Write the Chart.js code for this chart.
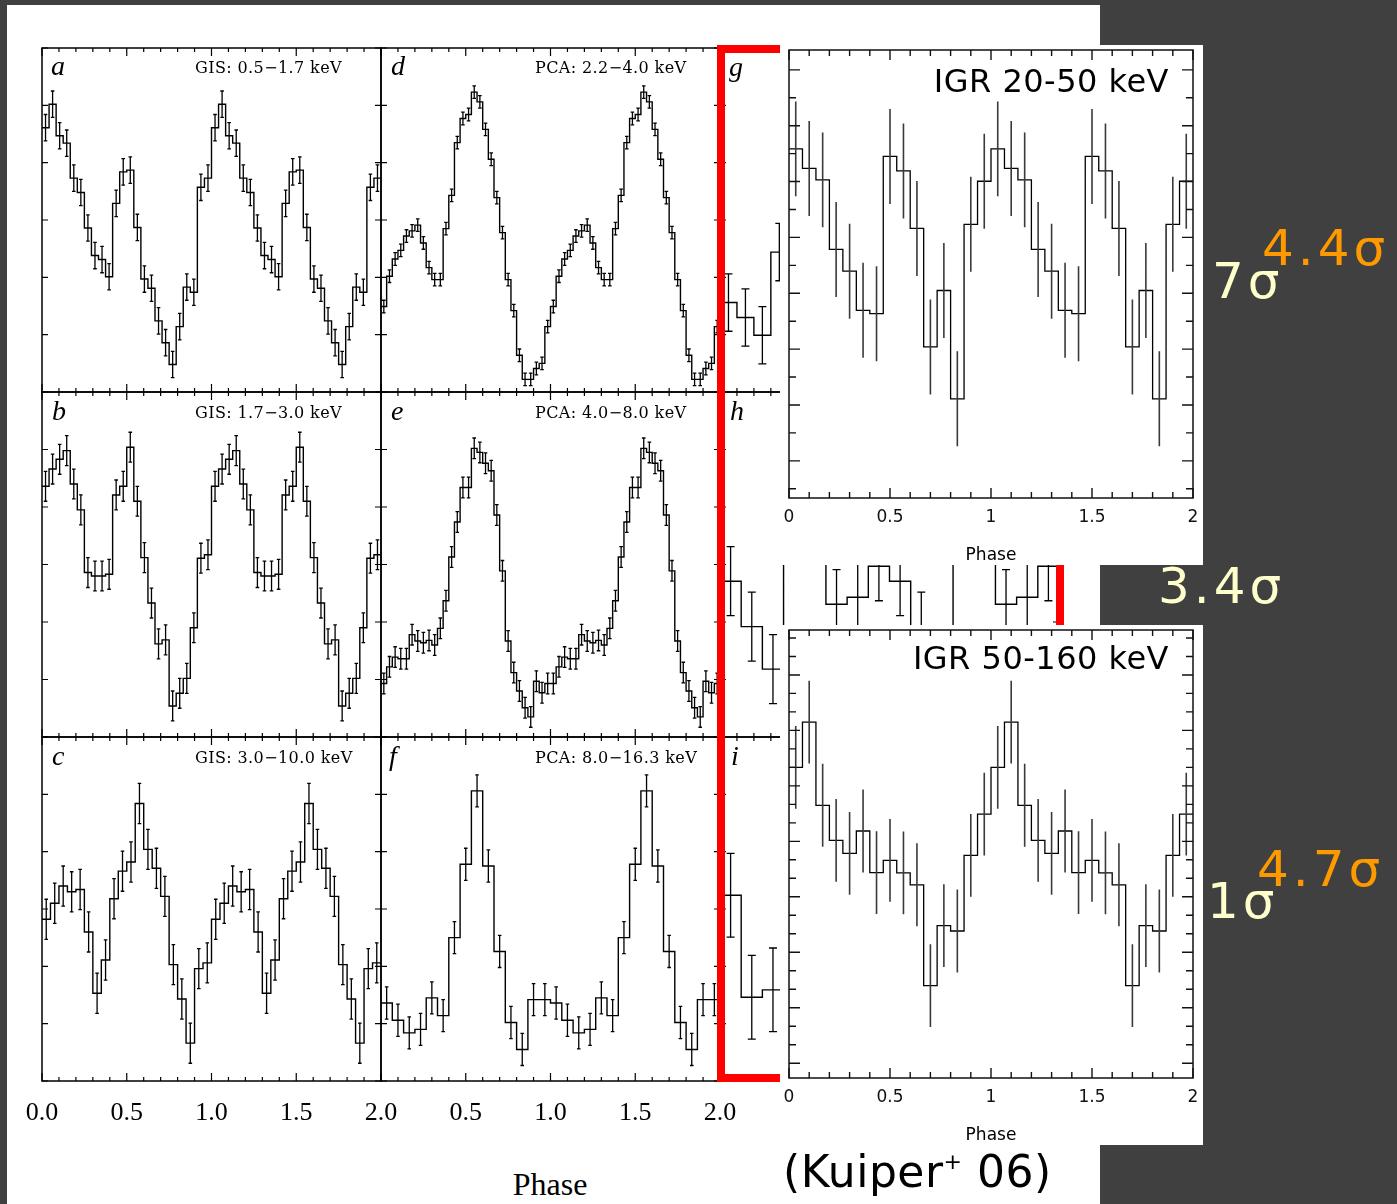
<!DOCTYPE html>
<html>
<head>
<meta charset="utf-8">
<title>Pulse profiles</title>
<script src="https://cdn.jsdelivr.net/npm/chart.js@4.4.1/dist/chart.umd.min.js"></script>
<style>
  html, body { margin: 0; padding: 0; background: #404040; }
  #stage { position: relative; width: 1397px; height: 1204px; overflow: hidden; background: #404040; }
  #stage canvas { position: absolute; }
  .sheet { position: absolute; background: #fff; }
  .t { position: absolute; white-space: nowrap; line-height: 1; }
  #redbox { position: absolute; left: 717px; top: 45px; width: 331px; height: 1021px; border: 8px solid #ff0000; z-index: 2; }
</style>
</head>
<body>
<div id="stage">
  <div class="sheet" style="left:7px;top:5px;width:1093px;height:1199px;z-index:0"></div>
  <div id="redbox"></div>
  <div class="sheet" style="left:780px;top:45px;width:423px;height:520px;z-index:3"></div>
  <div class="sheet" style="left:780px;top:625px;width:423px;height:520px;z-index:3"></div>
</div>
<script>
// one pulse cycle per band, plotted twice over phase 0-2
// ASCA GIS (24 / 24 / 20 bins per cycle)
const gisSoft = [4.61, 5.02, 4.47, 4.34, 3.73, 3.48, 2.86, 2.38, 2.31, 2.01, 3.29, 3.84,
                 3.87, 2.87, 1.97, 1.81, 1.24, 0.86, 0.48, 1.14, 1.83, 1.74, 3.57, 3.73];
const gisMid = [4.36, 4.66, 4.83, 4.98, 4.40, 3.95, 2.86, 2.80, 2.80, 2.83, 4.21, 4.36,
                5.04, 4.10, 3.12, 2.33, 1.62, 1.69, 0.54, 0.76, 1.02, 1.90, 3.11, 3.17];
const gisHard = [2.82, 3.10, 3.40, 3.30, 3.34, 2.60, 1.53, 2.11, 3.18, 3.66,
                 3.82, 4.84, 4.04, 3.71, 3.22, 2.03, 1.43, 0.66, 1.96, 2.06];
// RXTE PCA (30 / 30 / 15 bins per cycle)
const pcaSoft = [1.49, 2.02, 2.32, 2.47, 2.72, 2.81, 2.91, 2.60, 2.17, 1.96, 1.96, 2.85, 3.43, 4.35, 4.77,
                 4.84, 5.23, 5.06, 4.58, 4.06, 3.39, 2.78, 1.96, 1.42, 0.64, 0.22, 0.22, 0.41, 0.50, 1.14];
const pcaMid = [0.93, 1.22, 1.39, 1.36, 1.36, 1.78, 1.67, 1.64, 1.68, 1.60, 1.89, 2.37, 3.13, 3.74, 4.34,
                4.34, 5.02, 4.95, 4.76, 4.63, 3.86, 2.89, 1.67, 1.12, 0.80, 0.51, 0.35, 0.97, 0.77, 0.93];
const pcaHard = [1.36, 1.06, 0.84, 0.90, 1.45, 1.14, 2.50, 3.78, 5.06, 3.75, 2.26, 1.02, 0.55, 1.42, 1.42];
// column g/h/i, mostly covered: only the bins that show
const colG = [1.56, 1.30, 0.99, 2.44];                      // 10 bins per cycle
const colH = [2.71, 1.92, 1.18, 3.9, 4.1, 2.31, 2.43, 2.97]; // 8 bins per cycle
const colI = [3.24, 1.46, 1.59];                             // 8 bins per cycle
// INTEGRAL IGR (15 bins per cycle)
const igrSoft = [11.17, 10.47, 10.06, 7.57, 6.79, 5.39, 5.27, 10.90, 10.38, 8.32, 4.08, 6.10, 2.22, 8.47, 10.01];
const igrHard = [16.00, 18.45, 13.95, 12.05, 11.35, 12.56, 10.31, 10.97, 10.29, 9.65, 4.20, 7.44, 7.15, 11.24, 13.47];

// error half-lengths
const errGis = [0.23, 0.26, 0.35];
const errPca = [0.11, 0.18, 0.28];
const errGHI = [0.50, 0.60, 0.73];
const errIgr = [1.70, 2.24];

// tick labels and panel texts
const phaseLabelsGis = ['0.0', '0.5', '1.0', '1.5', '2.0'];
const phaseLabelsPca = ['0.5', '1.0', '1.5', '2.0'];
const phaseLabelsIgr = ['0', '0.5', '1', '1.5', '2'];
const letters = ['a', 'b', 'c', 'd', 'e', 'f', 'g', 'h', 'i'];
const bandNames = ['GIS: 0.5\u22121.7 keV', 'GIS: 1.7\u22123.0 keV', 'GIS: 3.0\u221210.0 keV',
                   'PCA: 2.2\u22124.0 keV', 'PCA: 4.0\u22128.0 keV', 'PCA: 8.0\u221216.3 keV'];

const stage = document.getElementById('stage');

function stepPoints(values, perCycle, cycles) {
  const w = 1 / perCycle, line = [], mids = [];
  for (let c = 0; c < cycles; c++) {
    values.forEach((v, i) => {
      const x0 = c + i * w;
      line.push({x: x0, y: v}, {x: x0 + w, y: v});
      mids.push({x: x0 + w / 2, y: v});
    });
  }
  return {line, mids};
}

const isStep = (v, s) => Math.abs(v / s - Math.round(v / s)) < 1e-6;

// tick values between the scale limits
function tickValues(scale, step) {
  const out = [];
  for (let k = Math.ceil(scale.min / step - 1e-9); k * step <= scale.max + 1e-9; k++) out.push(k * step);
  return out;
}

// frame with inward ticks on all four sides, plus optional phase labels
function boxPlugin(cfg) {
  return {
    id: 'box',
    afterDatasetsDraw(chart) {
      const {ctx, chartArea: a, scales: {x, y}} = chart;
      ctx.save();
      ctx.strokeStyle = cfg.frameColor;
      ctx.lineWidth = cfg.tickWidth;
      ctx.beginPath();
      tickValues(x, cfg.xStep).forEach(v => {
        const px = x.getPixelForValue(v);
        const len = isStep(v, cfg.xMajor) ? cfg.xMajorLen : cfg.xMinorLen;
        ctx.moveTo(px, a.top); ctx.lineTo(px, a.top + len);
        ctx.moveTo(px, a.bottom); ctx.lineTo(px, a.bottom - len);
      });
      tickValues(y, cfg.yStep).forEach(v => {
        const py = y.getPixelForValue(v);
        const len = isStep(v, cfg.yMajor) ? cfg.yMajorLen : cfg.yMinorLen;
        ctx.moveTo(a.left, py); ctx.lineTo(a.left + len, py);
        ctx.moveTo(a.right, py); ctx.lineTo(a.right - len, py);
      });
      ctx.stroke();
      ctx.lineWidth = cfg.frameWidth;
      ctx.strokeRect(a.left, a.top, a.right - a.left, a.bottom - a.top);
      if (cfg.labels) {
        ctx.fillStyle = cfg.frameColor;
        ctx.font = cfg.labelFont;
        ctx.textAlign = 'center';
        ctx.textBaseline = 'alphabetic';
        cfg.labels.forEach(s => ctx.fillText(s, x.getPixelForValue(parseFloat(s)), a.bottom + cfg.labelGap));
      }
      ctx.restore();
    }
  };
}

// vertical error bars at bin centres
Chart.register({
  id: 'errorBars',
  afterDatasetsDraw(chart) {
    const {ctx, chartArea: a, scales: {x, y}} = chart;
    chart.data.datasets.forEach(ds => {
      if (!ds.mids) return;
      ctx.save();
      ctx.beginPath();
      ctx.rect(a.left, a.top, a.right - a.left, a.bottom - a.top);
      ctx.clip();
      ctx.strokeStyle = ds.errColor;
      ctx.lineWidth = ds.errWidth;
      ctx.beginPath();
      ds.mids.forEach(m => {
        const px = x.getPixelForValue(m.x);
        const hi = y.getPixelForValue(m.y + ds.err), lo = y.getPixelForValue(m.y - ds.err);
        ctx.moveTo(px, hi); ctx.lineTo(px, lo);
        if (ds.cap) {
          ctx.moveTo(px - ds.cap, hi); ctx.lineTo(px + ds.cap, hi);
          ctx.moveTo(px - ds.cap, lo); ctx.lineTo(px + ds.cap, lo);
        }
      });
      ctx.stroke();
      ctx.restore();
    });
  }
});

function makeChart(box, s, cfg) {
  const pad = {left: 40, right: 40, top: 12, bottom: 60};
  const cv = document.createElement('canvas');
  cv.width = box.w + pad.left + pad.right;
  cv.height = box.h + pad.top + pad.bottom;
  cv.style.left = (box.x - pad.left) + 'px';
  cv.style.top = (box.y - pad.top) + 'px';
  cv.style.zIndex = cfg.z;
  stage.appendChild(cv);
  const pts = stepPoints(s.values, s.perCycle, s.cycles);
  return new Chart(cv, {
    type: 'line',
    data: {datasets: [{
      data: pts.line, mids: pts.mids, err: s.err,
      borderColor: cfg.lineColor, borderWidth: cfg.lineWidth,
      pointRadius: 0, tension: 0, fill: false,
      errColor: cfg.errColor, errWidth: cfg.errWidth, cap: cfg.cap
    }]},
    options: {
      responsive: false, animation: false, events: [],
      layout: {padding: pad},
      plugins: {legend: {display: false}, tooltip: {enabled: false}},
      scales: {
        x: {type: 'linear', display: false, min: 0, max: 2},
        y: {type: 'linear', display: false, min: cfg.yMin, max: cfg.yMax}
      }
    },
    plugins: [boxPlugin(cfg)]
  });
}

// ---- left figure: 3 columns x 3 rows ----
const colX = [42, 381, 720];
const rowY = [48, 392, 737];
const rowH = [344, 345, 344];
const leftStyle = {
  frameColor: '#000', frameWidth: 1.5, tickWidth: 1.2,
  lineColor: '#000', lineWidth: 1.4, errColor: '#000', errWidth: 1.3, cap: 1.8,
  xStep: 0.1, xMajor: 0.5, xMajorLen: 8, xMinorLen: 4,
  yStep: 1, yMajor: 1, yMajorLen: 6, yMinorLen: 6,
  yMin: 0, yMax: 6, z: 1,
  labelFont: '26px "Liberation Serif"', labelGap: 39
};
const series = [
  {values: gisSoft, perCycle: 24, cycles: 2, err: errGis[0]},
  {values: gisMid, perCycle: 24, cycles: 2, err: errGis[1]},
  {values: gisHard, perCycle: 20, cycles: 2, err: errGis[2]},
  {values: pcaSoft, perCycle: 30, cycles: 2, err: errPca[0]},
  {values: pcaMid, perCycle: 30, cycles: 2, err: errPca[1]},
  {values: pcaHard, perCycle: 15, cycles: 2, err: errPca[2]},
  {values: colG, perCycle: 10, cycles: 1, err: errGHI[0]},
  {values: colH, perCycle: 8, cycles: 2, err: errGHI[1]},
  {values: colI, perCycle: 8, cycles: 1, err: errGHI[2]}
];
series.forEach((s, k) => {
  const col = Math.floor(k / 3), row = k % 3;
  const cfg = Object.assign({}, leftStyle);
  if (col === 2) cfg.cap = 4;
  if (row === 2 && col === 0) cfg.labels = phaseLabelsGis;
  if (row === 2 && col === 1) cfg.labels = phaseLabelsPca;
  makeChart({x: colX[col], y: rowY[row], w: 339, h: rowH[row]}, s, cfg);
});

// ---- IGR panels ----
const igrStyle = {
  frameColor: '#111', frameWidth: 1.5, tickWidth: 1.4,
  lineColor: '#000', lineWidth: 1.3, errColor: '#3a3a3a', errWidth: 1.6, cap: 0,
  xStep: 0.1, xMajor: 0.5, xMajorLen: 10, xMinorLen: 6,
  yStep: 1, yMajorLen: 11, yMinorLen: 7, z: 4,
  labels: phaseLabelsIgr, labelFont: '17px "DejaVu Sans"', labelGap: 24
};
makeChart({x: 789, y: 50, w: 404, h: 448},
  {values: igrSoft, perCycle: 15, cycles: 2, err: errIgr[0]},
  Object.assign({}, igrStyle, {yMin: -1.33, yMax: 14.71, yMajor: 2}));
makeChart({x: 789, y: 630, w: 404, h: 448},
  {values: igrHard, perCycle: 15, cycles: 2, err: errIgr[1]},
  Object.assign({}, igrStyle, {yMin: -0.8, yMax: 23.43, yMajor: 3}));

// ---- texts ----
function addText(txt, x, base, size, family, o = {}) {
  const d = document.createElement('div');
  d.className = 't';
  if (o.html) d.innerHTML = txt; else d.textContent = txt;
  d.style.fontFamily = family;
  d.style.fontSize = size + 'px';
  d.style.top = (base - 0.845 * size) + 'px';
  if (o.align === 'right') d.style.right = (1397 - x) + 'px';
  else if (o.align === 'center') { d.style.left = x + 'px'; d.style.transform = 'translateX(-50%)'; }
  else d.style.left = x + 'px';
  d.style.color = o.color || '#000';
  if (o.italic) d.style.fontStyle = 'italic';
  if (o.spacing) d.style.letterSpacing = o.spacing + 'px';
  d.style.zIndex = o.z || 1;
  stage.appendChild(d);
}

const letterX = [51, 52, 52, 391, 391, 389, 729, 730, 731];
const letterBase = [76, 421, 766];
letters.forEach((l, k) => addText(l, letterX[k], letterBase[k % 3] + (k === 6 ? 1 : 0), 28, '"Liberation Serif"', {italic: true}));
const bandX = [195, 195, 195, 535, 535, 535];
const bandBase = [74, 419, 764];
bandNames.forEach((b, k) => addText(b, bandX[k], bandBase[k % 3], 16, '"DejaVu Serif"', {spacing: 0.4}));
addText('Phase', 550, 1195, 32, '"Liberation Serif"', {align: 'center'});

addText('IGR 20-50 keV', 1169, 92, 32, '"DejaVu Sans"', {align: 'right', spacing: 0.5, z: 5});
addText('IGR 50-160 keV', 1169, 669, 32, '"DejaVu Sans"', {align: 'right', spacing: 0.5, z: 5});
addText('Phase', 991, 560, 17, '"DejaVu Sans"', {align: 'center', z: 5});
addText('Phase', 991, 1140, 17, '"DejaVu Sans"', {align: 'center', z: 5});
addText('(Kuiper<sup style="font-size:0.5em;vertical-align:0.8em">+</sup> 06)', 783, 1187, 44, '"DejaVu Sans"', {html: true, spacing: 0.5, z: 5});

const cream = '#ffffcc', orange = '#ff9900';
addText('7\u03c3', 1212, 298, 50, '"DejaVu Sans"', {color: cream, spacing: 4, z: 5});
addText('4.4\u03c3', 1262, 265, 50, '"DejaVu Sans"', {color: orange, spacing: 4, z: 6});
addText('3.4\u03c3', 1158, 603, 50, '"DejaVu Sans"', {color: cream, spacing: 4, z: 5});
addText('1\u03c3', 1207, 918, 50, '"DejaVu Sans"', {color: cream, spacing: 4, z: 5});
addText('4.7\u03c3', 1257, 886, 50, '"DejaVu Sans"', {color: orange, spacing: 4, z: 6});
</script>
</body>
</html>
